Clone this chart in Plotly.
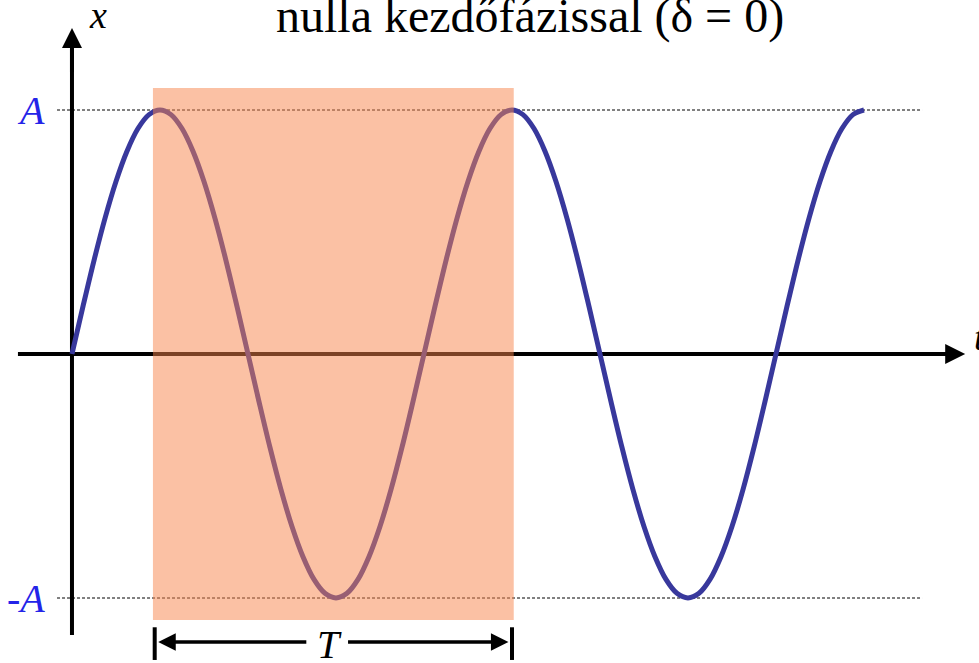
import plotly.graph_objects as go

# time in quarter-period units, displacement in units of A
t_vals = [0, 0.125, 0.25, 0.375, 0.5, 0.625, 0.75, 0.875,
          1, 1.125, 1.25, 1.375, 1.5, 1.625, 1.75, 1.875,
          2, 2.125, 2.25, 2.375, 2.5, 2.625, 2.75, 2.875,
          3, 3.125, 3.25, 3.375, 3.5, 3.625, 3.75, 3.875,
          4, 4.125, 4.25, 4.375, 4.5, 4.625, 4.75, 4.875,
          5, 5.125, 5.25, 5.375, 5.5, 5.625, 5.75, 5.875,
          6, 6.125, 6.25, 6.375, 6.5, 6.625, 6.75, 6.875,
          7, 7.125, 7.25, 7.375, 7.5, 7.625, 7.75, 7.875,
          8, 8.125, 8.25, 8.375, 8.5, 8.625, 8.75, 8.875, 9]
x_vals = [0, 0.195, 0.383, 0.556, 0.707, 0.831, 0.924, 0.981,
          1, 0.981, 0.924, 0.831, 0.707, 0.556, 0.383, 0.195,
          0, -0.195, -0.383, -0.556, -0.707, -0.831, -0.924, -0.981,
          -1, -0.981, -0.924, -0.831, -0.707, -0.556, -0.383, -0.195,
          0, 0.195, 0.383, 0.556, 0.707, 0.831, 0.924, 0.981,
          1, 0.981, 0.924, 0.831, 0.707, 0.556, 0.383, 0.195,
          0, -0.195, -0.383, -0.556, -0.707, -0.831, -0.924, -0.981,
          -1, -0.981, -0.924, -0.831, -0.707, -0.556, -0.383, -0.195,
          0, 0.195, 0.383, 0.556, 0.707, 0.831, 0.924, 0.981, 1]

period_start = 0.92
period_end = 5.02
amp_labels = ["A", "-A"]
title_text = "nulla kezdőfázissal (δ = 0)"

SERIF = "Liberation Serif, Times New Roman, serif"

fig = go.Figure()

fig.add_trace(
    go.Scatter(
        x=t_vals,
        y=x_vals,
        mode="lines",
        line=dict(color="#38389c", width=5, shape="spline", smoothing=1.0),
        showlegend=False,
        hoverinfo="skip"
    )
)

shapes = []

# axes
shapes.append(dict(type="line", x0=-0.614, x1=10.05, y0=0, y1=0,
                   line=dict(color="black", width=4), layer="below"))
shapes.append(dict(type="line", x0=0, x1=0, y0=-1.152, y1=1.25,
                   line=dict(color="black", width=4), layer="below"))

# dashed amplitude lines
for yv in [1, -1]:
    shapes.append(dict(type="line", x0=-0.17, x1=9.66, y0=yv, y1=yv,
                       line=dict(color="black", width=1, dash="3px,2px"), layer="below"))

# highlighted period
shapes.append(dict(type="rect", x0=period_start, x1=period_end, y0=-1.09, y1=1.09,
                   fillcolor="#f8844a", opacity=0.5, line=dict(width=0), layer="above"))

# T bracket end bars
for xv in [0.94, 5.0]:
    shapes.append(dict(type="line", x0=xv, x1=xv, y0=-1.12, y1=-1.254,
                       line=dict(color="black", width=4)))

annotations = []

# axis arrow tips
annotations.append(dict(x=10.15, y=0, ax=9.7, ay=0, xref="x", yref="y", axref="x", ayref="y",
                        text="", showarrow=True, arrowhead=2, arrowsize=1, arrowwidth=4,
                        arrowcolor="black"))
annotations.append(dict(x=0, y=1.336, ax=0, ay=1.15, xref="x", yref="y", axref="x", ayref="y",
                        text="", showarrow=True, arrowhead=2, arrowsize=1, arrowwidth=4,
                        arrowcolor="black"))

# T bracket arrows
annotations.append(dict(x=0.98, y=-1.18, ax=2.68, ay=-1.18, xref="x", yref="y", axref="x", ayref="y",
                        text="", showarrow=True, arrowhead=2, arrowsize=1, arrowwidth=3.5,
                        arrowcolor="black"))
annotations.append(dict(x=4.96, y=-1.18, ax=3.12, ay=-1.18, xref="x", yref="y", axref="x", ayref="y",
                        text="", showarrow=True, arrowhead=2, arrowsize=1, arrowwidth=3.5,
                        arrowcolor="black"))
annotations.append(dict(x=2.93, y=-1.19, xref="x", yref="y", text="<i>T</i>", showarrow=False,
                        font=dict(family=SERIF, size=40, color="black")))

# amplitude labels
for lab, yv in zip(amp_labels, [1, -1]):
    annotations.append(dict(x=-0.28, y=yv, xref="x", yref="y", text="<i>" + lab + "</i>",
                            showarrow=False, xanchor="right",
                            font=dict(family=SERIF, size=40, color="#2424e8")))

# axis names
annotations.append(dict(x=0.3, y=1.39, xref="x", yref="y", text="<i>x</i>", showarrow=False,
                        font=dict(family=SERIF, size=38, color="black")))
annotations.append(dict(x=10.23, y=0.07, xref="x", yref="y", text="<i>t</i>", showarrow=False,
                        xanchor="left", font=dict(family=SERIF, size=38, color="black")))

# title, slightly clipped at the top edge like the reference
annotations.append(dict(x=530 / 979, y=1 - 16 / 663, xref="paper", yref="paper", text=title_text,
                        showarrow=False, yanchor="middle",
                        font=dict(family=SERIF, size=48, color="black")))

fig.update_layout(
    width=979,
    height=663,
    margin=dict(l=0, r=0, t=0, b=0, autoexpand=False),
    paper_bgcolor="white",
    plot_bgcolor="white",
    xaxis=dict(range=[-0.818, 10.307], visible=False, fixedrange=True),
    yaxis=dict(range=[-1.2664, 1.4508], visible=False, fixedrange=True),
    shapes=shapes,
    annotations=annotations
)

# drop the default body margin so the figure sits flush with the window
fig.write_html("out.html", config={"displayModeBar": False},
               post_script="document.body.style.margin = '0px';")
